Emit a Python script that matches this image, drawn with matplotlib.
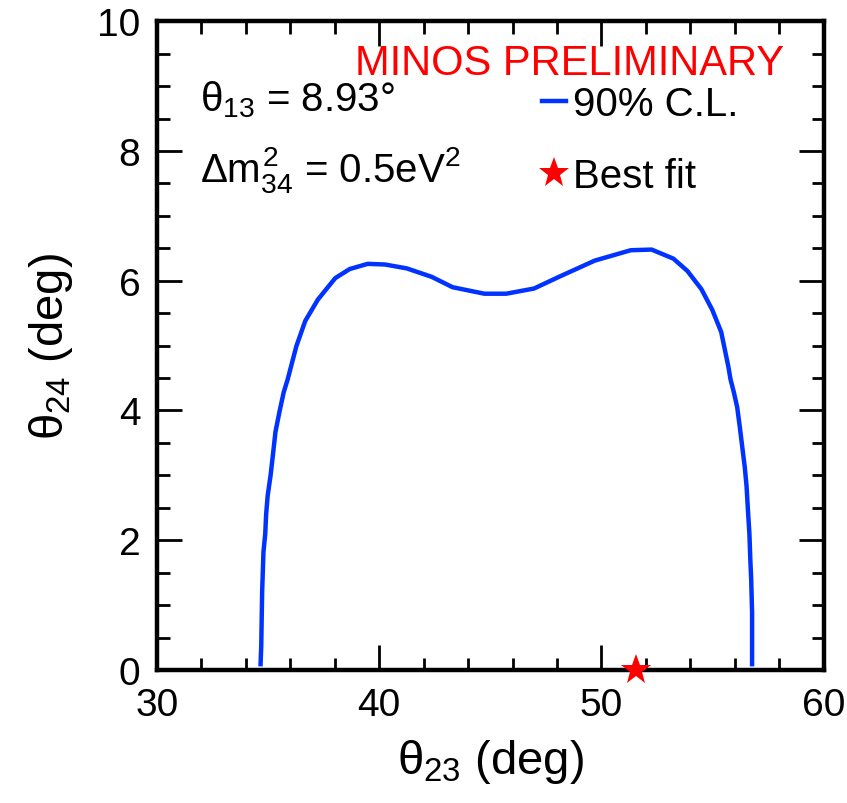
import matplotlib
matplotlib.use("Agg")
import matplotlib.pyplot as plt
from matplotlib.lines import Line2D
from matplotlib.ticker import MultipleLocator

fam = "Liberation Sans"
plt.rcParams['font.family'] = [fam, 'DejaVu Sans']
plt.rcParams['mathtext.fontset'] = 'custom'
plt.rcParams['mathtext.rm'] = fam
plt.rcParams['mathtext.it'] = fam
plt.rcParams['mathtext.bf'] = fam + ':bold'

# 90% C.L. contour (theta23, theta24) in degrees
theta23 = [34.66, 34.69, 34.73, 34.79, 34.87, 34.91, 34.98, 35.11, 35.21, 35.33,
           35.51, 35.70, 35.88, 36.04, 36.27, 36.67, 37.24, 38.02, 38.67, 39.48,
           40.26, 41.24, 42.36, 43.30, 44.73, 45.72, 46.97, 48.09, 49.70, 51.32,
           52.26, 53.24, 53.87, 54.50, 54.99, 55.39, 55.71, 55.81, 55.96, 56.11,
           56.23, 56.33, 56.45, 56.53, 56.60, 56.66, 56.70, 56.74, 56.78, 56.78]
theta24 = [0.09, 0.37, 1.20, 1.82, 2.10, 2.40, 2.69, 3.00, 3.30, 3.67,
           3.98, 4.28, 4.48, 4.69, 4.99, 5.38, 5.71, 6.04, 6.18, 6.26,
           6.25, 6.19, 6.06, 5.90, 5.80, 5.80, 5.88, 6.06, 6.31, 6.47,
           6.48, 6.34, 6.15, 5.87, 5.55, 5.21, 4.68, 4.48, 4.28, 4.05,
           3.74, 3.46, 3.13, 2.84, 2.43, 2.10, 1.71, 1.40, 0.89, 0.09]

best_fit = (51.55, 0.0)

blue = '#0033ff'

fig = plt.figure(figsize=(8.47, 8.04), dpi=100)
ax = fig.add_axes([0.1854, 0.1654, 0.787, 0.807])

ax.plot(theta23, theta24, color=blue, lw=3.2, solid_joinstyle='round')
ax.plot([best_fit[0]], [best_fit[1]], marker='*', color='red', ms=23,
        clip_on=False, zorder=5, markeredgewidth=0)

ax.set_xlim(30, 60)
ax.set_ylim(0, 10)
ax.xaxis.set_major_locator(MultipleLocator(10))
ax.xaxis.set_minor_locator(MultipleLocator(2))
ax.yaxis.set_major_locator(MultipleLocator(2))
ax.yaxis.set_minor_locator(MultipleLocator(0.5))
ax.tick_params(which='both', direction='in', top=True, right=True,
               labelsize=28, width=2)
ax.tick_params(which='major', length=18, pad=12)
ax.tick_params(which='minor', length=9)
for s in ax.spines.values():
    s.set_linewidth(3.2)

ax.set_xlabel(r'$\theta_{23}$ (deg)', fontsize=34, labelpad=10)
ax.set_ylabel(r'$\theta_{24}$ (deg)', fontsize=34, labelpad=16)

ax.text(0.94, 0.966, 'MINOS PRELIMINARY', color='red', fontsize=30,
        transform=ax.transAxes, ha='right', va='top')
ax.text(0.065, 0.88, r'$\theta_{13}$ = 8.93°', fontsize=29,
        transform=ax.transAxes, ha='left', va='center')
ax.text(0.065, 0.772, r'$\Delta m^{2}_{34}$ = 0.5eV$^{2}$', fontsize=29,
        transform=ax.transAxes, ha='left', va='center')

handles = [Line2D([], [], color=blue, lw=3.2),
           Line2D([], [], color='red', marker='*', ls='none', ms=23, markeredgewidth=0)]
ax.legend(handles, ['90% C.L.', 'Best fit'], loc='upper left',
          bbox_to_anchor=(0.578, 0.902), frameon=False, fontsize=29,
          handlelength=0.6, handletextpad=0.15, labelspacing=0.85,
          borderaxespad=0, borderpad=0)

fig.savefig('out.png', dpi=100)
